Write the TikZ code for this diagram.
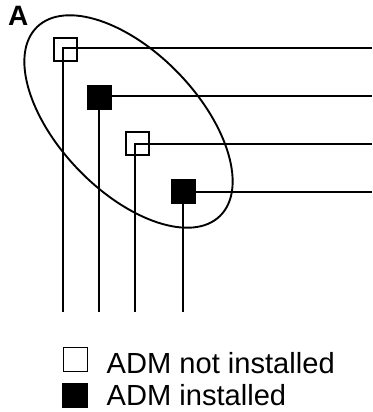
\documentclass[tikz,border=0pt]{standalone}
\usepackage{fontspec}
\usetikzlibrary{shapes.geometric}
\setmainfont{Liberation Sans}
\tikzset{
  open box/.style={draw=black,line width=1.8pt,minimum size=23.2pt,inner sep=0pt,outer sep=0pt},
  full box/.style={draw=black,fill=black,line width=1pt,minimum size=24pt,inner sep=0pt,outer sep=0pt},
  wire/.style={draw=black,line width=1.9pt},
  legend text/.style={anchor=base west,inner sep=0pt,font=\fontsize{29.1}{29.1}\selectfont}
}
\begin{document}
\begin{tikzpicture}[x=1pt,y=-1pt]
\useasboundingbox (0,0) rectangle (372,412);
\node[anchor=base west,inner sep=0pt,font=\fontsize{28}{28}\selectfont\bfseries] (lab) at (8,26) {A};
% wire ends
\coordinate (e1) at (372,48);
\coordinate (e2) at (372,96);
\coordinate (e3) at (372,143.9);
\coordinate (e4) at (372,191.9);
\coordinate (s1) at (63.3,312);
\coordinate (s2) at (99.3,312);
\coordinate (s3) at (135.4,312);
\coordinate (s4) at (183.4,312);
% junction boxes
\node[open box] (b1) at (65.3,49.5) {};
\node[full box] (b2) at (99.3,97.5) {};
\node[open box] (b3) at (137.7,143.5) {};
\node[full box] (b4) at (183.5,191.5) {};
% junction points inside the open boxes
\coordinate (c1) at (63.3,48);
\coordinate (c3) at (135.4,143.9);
\draw[wire] (e1) -- (c1) -- (s1);
\draw[wire] (b2.center |- e2) -- (e2);
\draw[wire] (b2) -- (s2);
\draw[wire] (e3) -- (c3) -- (s3);
\draw[wire] (b4.center |- e4) -- (e4);
\draw[wire] (b4.center -| s4) -- (s4);
% ellipse
\node[draw=black,line width=1.9pt,ellipse,inner sep=0pt,minimum width=263pt,minimum height=139pt,rotate=-46] (oval) at (128.5,121.5) {};
% legend
\node[open box,minimum size=24pt,line width=1.3pt] (k1) at (75.2,359.2) {};
\node[full box,minimum size=24.6pt] (k2) at (75.2,395.3) {};
\node[legend text] (t1) at (106.5,373) {ADM not installed};
\node[legend text] (t2) at (106.5,405) {ADM installed};
\end{tikzpicture}
\end{document}
